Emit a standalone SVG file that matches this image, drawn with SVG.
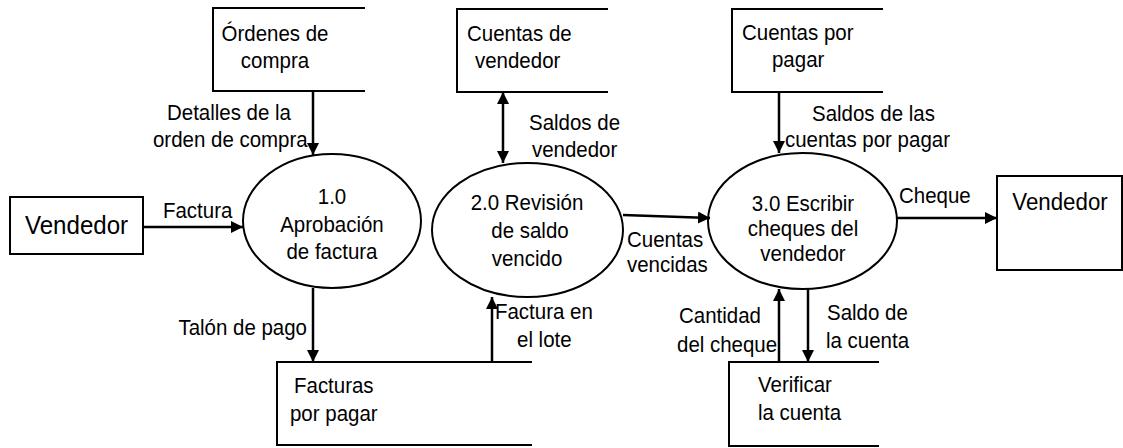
<svg xmlns="http://www.w3.org/2000/svg" width="1123" height="448" viewBox="0 0 1123 448">
<defs>
<style>
text{font-family:"Liberation Sans",Arial,sans-serif;font-size:22.5px;fill:#000;transform-box:fill-box;transform-origin:left center;transform:scaleX(0.91)}
.m{text-anchor:middle;transform-origin:center}
.e{text-anchor:end;transform-origin:right center}
.shape{fill:#fff;stroke:#000;stroke-width:2}
.store{fill:none;stroke:#000;stroke-width:2}
.flow{fill:none;stroke:#000;stroke-width:2.5}
</style>
<marker id="ah" viewBox="0 0 12 12" refX="12" refY="6" markerWidth="12" markerHeight="12" markerUnits="userSpaceOnUse" orient="auto-start-reverse">
<path d="M0,0 L12,6 L0,12 Z" fill="#000"/>
</marker>
</defs>
<rect width="1123" height="448" fill="#fff"/>

<g id="vendedor1">
<rect class="shape" x="10" y="197" width="133" height="57"/>
<text x="76.5" y="234" class="m" style="font-size:26.5px">Vendedor</text>
</g>

<g id="ordenes">
<path class="store" d="M365,8 H213 V91 H365"/>
<text x="275" y="41" class="m">Órdenes de</text>
<text x="275" y="68" class="m">compra</text>
</g>

<g id="cuentasVendedor">
<path class="store" d="M608,9 H457 V92 H608"/>
<text x="467" y="41">Cuentas de</text>
<text x="475" y="68">vendedor</text>
</g>

<g id="cuentasPagar">
<path class="store" d="M883,9 H732 V92 H883"/>
<text x="742" y="40">Cuentas por</text>
<text x="772" y="67">pagar</text>
</g>

<g id="p1">
<ellipse class="shape" cx="332" cy="221" rx="89" ry="67"/>
<text x="332" y="204" class="m">1.0</text>
<text x="332" y="232" class="m">Aprobación</text>
<text x="332" y="259" class="m">de factura</text>
</g>

<g id="p2">
<ellipse class="shape" cx="527.5" cy="230" rx="95.5" ry="67"/>
<text x="527" y="210" class="m">2.0 Revisión</text>
<text x="530" y="238" class="m">de saldo</text>
<text x="527" y="266" class="m">vencido</text>
</g>

<g id="p3">
<ellipse class="shape" cx="802.5" cy="221" rx="94.5" ry="68"/>
<text x="803" y="211" class="m">3.0 Escribir</text>
<text x="803" y="236" class="m">cheques del</text>
<text x="803" y="261" class="m">vendedor</text>
</g>

<g id="vendedor2">
<rect class="shape" x="997" y="176" width="125" height="94"/>
<text x="1060" y="210" class="m" style="font-size:24.5px">Vendedor</text>
</g>

<g id="facturasPagar">
<path class="store" d="M532,362 H277 V445 H532"/>
<text x="294" y="393">Facturas</text>
<text x="290" y="421">por pagar</text>
</g>

<g id="verificar">
<path class="store" d="M879,362 H729 V446 H879"/>
<text x="758" y="392">Verificar</text>
<text x="758" y="420">la cuenta</text>
</g>

<g id="connectors">
<line class="flow" x1="143" y1="227" x2="243" y2="227" marker-end="url(#ah)"/>
<line class="flow" x1="313" y1="91" x2="313" y2="155" marker-end="url(#ah)"/>
<line class="flow" x1="503" y1="92" x2="503" y2="163" marker-start="url(#ah)" marker-end="url(#ah)"/>
<line class="flow" x1="779" y1="92" x2="779" y2="153" marker-end="url(#ah)"/>
<line class="flow" x1="623" y1="215" x2="710" y2="218" marker-end="url(#ah)"/>
<line class="flow" x1="897" y1="218" x2="997" y2="218" marker-end="url(#ah)"/>
<line class="flow" x1="313" y1="288" x2="313" y2="362" marker-end="url(#ah)"/>
<line class="flow" x1="492" y1="362" x2="492" y2="297" marker-end="url(#ah)"/>
<line class="flow" x1="779" y1="362" x2="779" y2="289" marker-end="url(#ah)"/>
<line class="flow" x1="808" y1="289" x2="808" y2="362" marker-end="url(#ah)"/>
</g>

<g id="labels">
<text x="167" y="120">Detalles de la</text>
<text x="153" y="147">orden de compra</text>
<text x="529" y="130">Saldos de</text>
<text x="532" y="157">vendedor</text>
<text x="812" y="121">Saldos de las</text>
<text x="785" y="147">cuentas por pagar</text>
<text x="163" y="218">Factura</text>
<text x="899" y="203">Cheque</text>
<text x="627" y="247">Cuentas</text>
<text x="627" y="272">vencidas</text>
<text x="307" y="335" class="e">Talón de pago</text>
<text x="495" y="319">Factura en</text>
<text x="517" y="347">el lote</text>
<text x="679" y="323">Cantidad</text>
<text x="677" y="352">del cheque</text>
<text x="827" y="320">Saldo de</text>
<text x="826" y="348">la cuenta</text>
</g>
</svg>
